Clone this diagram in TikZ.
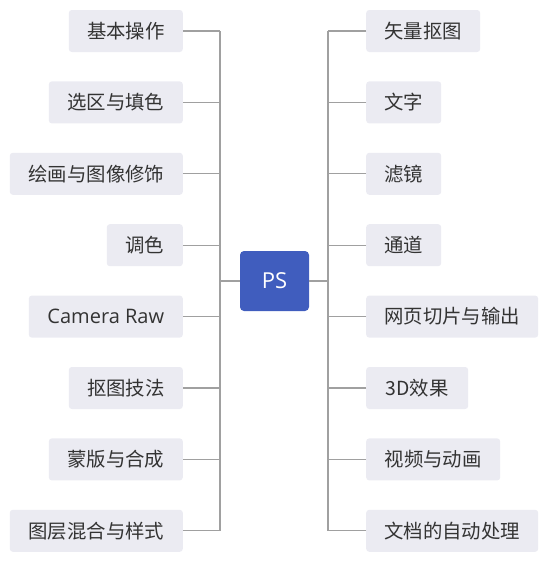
\documentclass[tikz,border=0pt]{standalone}
\usepackage{fontspec}
\setmainfont{Noto Sans CJK SC}
\newfontfamily\latfont{Open Sans}
\definecolor{leafc}{HTML}{EBEBF2}
\definecolor{txtc}{HTML}{333333}
\definecolor{linec}{HTML}{A0A0A0}
\definecolor{psblue}{HTML}{405DBE}
\tikzset{
  leaf/.style={fill=leafc, rounded corners=3pt, minimum height=42pt, text=txtc, inner sep=0pt,
    font=\fontsize{19.4}{23}\selectfont},
  lleaf/.style={leaf, anchor=east},
  rleaf/.style={leaf, anchor=west},
  conn/.style={draw=linec, line width=1.2pt},
}
\begin{document}
\begin{tikzpicture}[x=1pt,y=-1pt]
\useasboundingbox (0,0) rectangle (550,562);
% left
\node[lleaf, minimum width=114pt] (l1) at (183,31.0) {基本操作};
\node[lleaf, minimum width=134pt] (l2) at (183,102.4) {选区与填色};
\node[lleaf, minimum width=173pt] (l3) at (183,173.8) {绘画与图像修饰};
\node[lleaf, minimum width=76pt] (l4) at (183,245.2) {调色};
\node[lleaf, minimum width=154pt] (l5) at (183,316.6) {\latfont\fontsize{20}{24}\selectfont Camera Raw};
\node[lleaf, minimum width=114pt] (l6) at (183,388.0) {抠图技法};
\node[lleaf, minimum width=134pt] (l7) at (183,459.4) {蒙版与合成};
\node[lleaf, minimum width=173pt] (l8) at (183,530.8) {图层混合与样式};
% right
\node[rleaf, minimum width=114pt] (r1) at (366,31.0) {矢量抠图};
\node[rleaf, minimum width=75pt] (r2) at (366,102.4) {文字};
\node[rleaf, minimum width=75pt] (r3) at (366,173.8) {滤镜};
\node[rleaf, minimum width=75pt] (r4) at (366,245.2) {通道};
\node[rleaf, minimum width=172pt] (r5) at (366,316.6) {网页切片与输出};
\node[rleaf, minimum width=102pt] (r6) at (366,388.0) {3D效果};
\node[rleaf, minimum width=134pt] (r7) at (366,459.4) {视频与动画};
\node[rleaf, minimum width=172pt] (r8) at (366,530.8) {文档的自动处理};
% center
\node[fill=psblue, rounded corners=4pt, minimum width=69pt, minimum height=60pt, inner sep=0pt,
  text=white, font=\latfont\fontsize{22}{26}\selectfont] (ps) at (274.5,281) {PS};
\coordinate (lt) at (220,31.0);
\coordinate (lb) at (220,530.8);
\coordinate (rt) at (328,31.0);
\coordinate (rb) at (328,530.8);
\draw[conn] (lt) -- (lb);
\draw[conn] (rt) -- (rb);
\foreach \n in {l1,l2,l3,l4,l5,l6,l7,l8} {\draw[conn] (\n.east) -- (\n.east -| lt);}
\foreach \n in {r1,r2,r3,r4,r5,r6,r7,r8} {\draw[conn] (\n.west) -- (\n.west -| rt);}
\draw[conn] (ps.west) -- (ps.west -| lt);
\draw[conn] (ps.east) -- (ps.east -| rt);
\end{tikzpicture}
\end{document}
